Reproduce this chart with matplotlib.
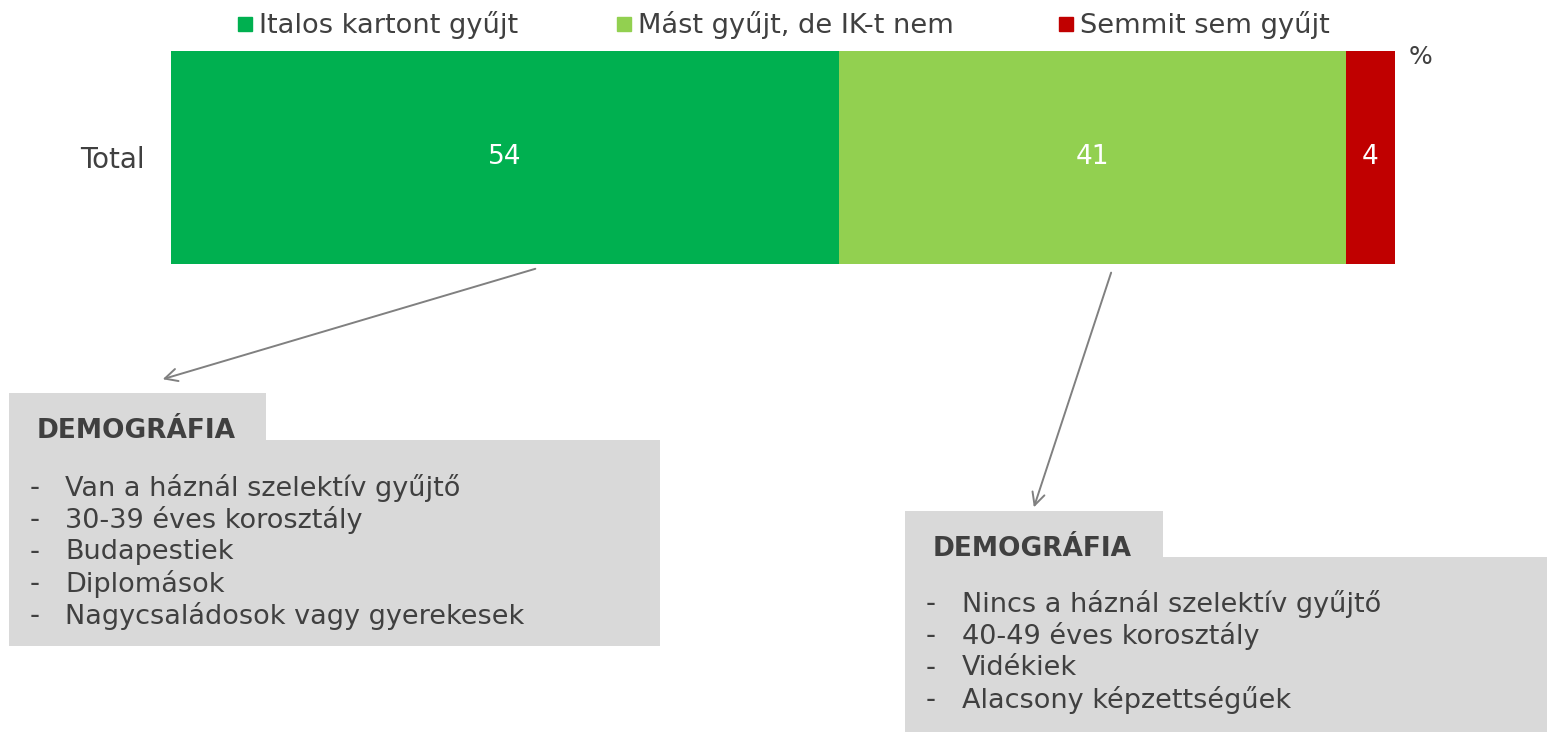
import matplotlib
matplotlib.use("Agg")
import matplotlib.pyplot as plt
from matplotlib.patches import Rectangle

categories = ["Total"]
series_names = ["Italos kartont gyűjt", "Mást gyűjt, de IK-t nem", "Semmit sem gyűjt"]
series_values = [54, 41, 4]
series_colors = ["#00B050", "#92D050", "#C00000"]
unit_label = "%"
box_title = "DEMOGRÁFIA"
left_items = ["Van a háznál szelektív gyűjtő", "30-39 éves korosztály", "Budapestiek",
              "Diplomások", "Nagycsaládosok vagy gyerekesek"]
right_items = ["Nincs a háznál szelektív gyűjtő", "40-49 éves korosztály", "Vidékiek",
               "Alacsony képzettségűek"]

W, H = 1547, 732
plt.rcParams['font.family'] = ['DejaVu Sans']
fig = plt.figure(figsize=(W / 100, H / 100), dpi=100)
TXT = "#404040"

# overlay axes in pixel coordinates
ov = fig.add_axes([0, 0, 1, 1])
ov.set_xlim(0, W)
ov.set_ylim(H, 0)
ov.axis("off")

# bar axes
ax = fig.add_axes([171 / W, 1 - 264 / H, 1224 / W, 213 / H])
left = 0
for name, v, c in zip(series_names, series_values, series_colors):
    ax.barh(categories, [v], left=[left], height=1.0, color=c, edgecolor="none")
    ax.text(left + v / 2, 0, f"{v}", color="white", ha="center", va="center", fontsize=19)
    left += v
ax.set_xlim(0, sum(series_values))
ax.set_ylim(-0.5, 0.5)
for s in ax.spines.values():
    s.set_visible(False)
ax.set_xticks([])
ax.tick_params(axis="y", length=0, labelsize=20, labelcolor=TXT, pad=19)

# legend
leg_x = [238, 617, 1059]
for x, name, c in zip(leg_x, series_names, series_colors):
    ov.add_patch(Rectangle((x, 17), 14, 14, color=c, zorder=3))
    ov.text(x + 21, 25, name, ha="left", va="center", fontsize=19.6, color=TXT)

ov.text(1409, 57, unit_label, ha="left", va="center", fontsize=18, color=TXT)

# arrows
arrow_kw = dict(arrowstyle="->,head_length=0.9,head_width=0.45", color="#808080", lw=1.4)
ov.annotate("", xy=(160, 380), xytext=(538, 268), arrowprops=arrow_kw)
ov.annotate("", xy=(1033, 510), xytext=(1112, 270), arrowprops=arrow_kw)

GREY = "#D9D9D9"
def box(x0, tab_top, tab_right, main_top, main_right, main_bottom, items, dash_x, text_x, first_y):
    ov.add_patch(Rectangle((x0, tab_top), tab_right - x0, main_top - tab_top + 1, color=GREY, lw=0))
    ov.add_patch(Rectangle((x0, main_top), main_right - x0, main_bottom - main_top, color=GREY, lw=0))
    ov.text(x0 + 28, tab_top + 38, box_title, ha="left", va="center", fontsize=19,
            fontweight="bold", color=TXT)
    for i, it in enumerate(items):
        y = first_y + i * 32
        ov.text(dash_x, y, "-", ha="left", va="center", fontsize=20, color=TXT)
        ov.text(text_x, y, it, ha="left", va="center", fontsize=19.5, color=TXT)

box(9, 393, 266, 440, 660, 646, left_items, 30, 65, 488)
box(905, 511, 1163, 557, 1547, 732, right_items, 926, 962, 604)

fig.savefig("out.png", dpi=100)
